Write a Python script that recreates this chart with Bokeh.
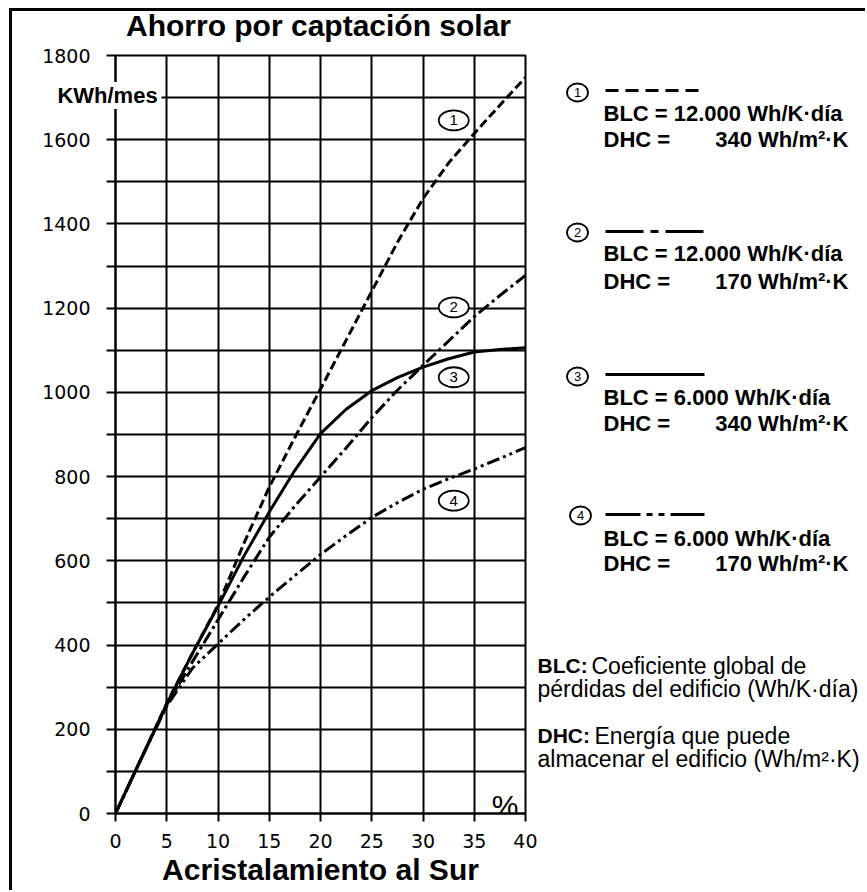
from bokeh.plotting import figure
from bokeh.models import Range1d, FixedTicker, Label
from bokeh.layouts import row
from bokeh.embed import file_html
from bokeh.resources import INLINE
from bokeh.core.properties import value

# ---------------- data ----------------
x_pct = [0, 2.5, 5, 7.5, 10, 12.5, 15, 17.5, 20, 22.5, 25, 27.5, 30, 32.5, 35, 37.5, 40]
ahorro_1 = [0, 130, 262, 380, 495, 640, 775, 893, 1008, 1124, 1240, 1356, 1460, 1545, 1615, 1682, 1748]
ahorro_2 = [0, 130, 258, 360, 460, 560, 656, 730, 799, 868, 940, 1005, 1064, 1122, 1180, 1230, 1278]
ahorro_3 = [0, 130, 260, 380, 492, 610, 716, 815, 902, 960, 1004, 1035, 1060, 1080, 1096, 1102, 1106]
ahorro_4 = [0, 130, 255, 345, 403, 460, 514, 565, 615, 660, 703, 738, 770, 795, 818, 843, 869]

x_ticks = [0, 5, 10, 15, 20, 25, 30, 35, 40]
y_ticks = list(range(0, 1801, 100))
y_labelled = [0, 200, 400, 600, 800, 1000, 1200, 1400, 1600, 1800]
y_unit_text = "KWh/mes"
title_text = "Ahorro por captación solar"
x_title_text = "Acristalamiento al Sur"

curve_ids = ["1", "2", "3", "4"]
curve_tag_x = [33, 33, 33, 33]
curve_tag_y = [1646, 1202, 1036, 743]

blc_text = ["BLC = 12.000 Wh/K·día", "BLC = 12.000 Wh/K·día",
            "BLC = 6.000 Wh/K·día", "BLC = 6.000 Wh/K·día"]
dhc_value = ["340 Wh/m²·K", "170 Wh/m²·K", "340 Wh/m²·K", "170 Wh/m²·K"]

FONT = "Liberation Sans"
TICK_FONT = "DejaVu Sans"

# ---------------- main chart ----------------
FW, FH = 410, 758
p = figure(frame_width=FW, frame_height=FH,
           x_range=Range1d(0, 40), y_range=Range1d(0, 1800),
           min_border_left=103, min_border_right=12, min_border_top=44, min_border_bottom=77,
           output_backend="svg", toolbar_location=None,
           background_fill_color="white", border_fill_color="white")

p.xaxis.ticker = FixedTicker(ticks=x_ticks)
p.yaxis.ticker = FixedTicker(ticks=y_ticks)
p.yaxis.major_label_overrides = {t: (str(t) if t in y_labelled else "") for t in y_ticks}

for ax in (p.xaxis[0], p.yaxis[0]):
    ax.axis_line_color = "black"
    ax.axis_line_width = 2
    ax.major_tick_line_color = "black"
    ax.major_tick_line_width = 2
    ax.major_tick_in = 0
    ax.minor_tick_line_color = None
    ax.major_label_text_font = TICK_FONT
    ax.major_label_text_font_size = "19px"
    ax.major_label_text_color = "black"

p.yaxis.major_tick_out = 9
p.yaxis.major_label_standoff = 16
p.xaxis.major_tick_out = 8
p.xaxis.major_label_standoff = 12
p.xaxis.axis_label = x_title_text
p.xaxis.axis_label_text_font = FONT
p.xaxis.axis_label_text_font_size = "30px"
p.xaxis.axis_label_text_font_style = "bold"
p.xaxis.axis_label_text_color = "black"
p.xaxis.axis_label_standoff = 2

p.grid.grid_line_color = "black"
p.grid.grid_line_width = 2
p.grid.grid_line_alpha = 1.0
p.outline_line_color = "black"
p.outline_line_width = 2

p.line(x_pct, ahorro_1, line_color="black", line_width=3, line_dash="9 4")
p.line(x_pct, ahorro_2, line_color="black", line_width=3, line_dash="13 4 3 4")
p.line(x_pct, ahorro_3, line_color="black", line_width=3)
p.line(x_pct, ahorro_4, line_color="black", line_width=3, line_dash="13 4 3 4 3 4")

p.ellipse(x=curve_tag_x, y=curve_tag_y, width=30, height=20,
          width_units="screen", height_units="screen",
          fill_color="white", line_color="black", line_width=1.8)
p.text(x=curve_tag_x, y=curve_tag_y, text=curve_ids, text_align="center",
       text_baseline="middle", text_font=value(FONT), text_font_size="15px",
       text_color="black")

p.add_layout(Label(x=40, y=0, x_offset=-7, y_offset=8, text="%", text_align="right",
                   text_baseline="alphabetic", text_font=FONT, text_font_size="30px",
                   text_color="black"))

# ---------------- legend panel (coordinates = page pixels) ----------------
L0, LW = 537, 328
leg = figure(width=LW, height=879, x_range=Range1d(L0, L0 + LW), y_range=Range1d(813, 55),
             min_border=0, x_axis_location=None, y_axis_location=None,
             output_backend="svg", toolbar_location=None,
             outline_line_color=None, background_fill_color="white",
             border_fill_color="white")
leg.grid.visible = False

circle_x = [577, 577, 577, 580]
circle_y = [92, 232, 376, 515]
sample_y = [90, 231, 374, 514]
blc_y = [113, 253, 397, 538]
dhc_y = [139, 281, 423, 563]
sample_dash = ["13 7", "38 7 8 7", "solid", "35 6 6 6 6 6"]

leg.ellipse(x=circle_x, y=circle_y, width=21, height=18,
            width_units="screen", height_units="screen",
            fill_color="white", line_color="black", line_width=1.8)
leg.text(x=circle_x, y=circle_y, text=curve_ids, text_align="center",
         text_baseline="middle", text_font=value(FONT), text_font_size="13px",
         text_color="black")
for yy, dash in zip(sample_y, sample_dash):
    leg.line([605, 704], [yy, yy], line_color="black", line_width=3, line_dash=dash)

leg.text(x=[603] * 4, y=blc_y, text=blc_text, text_align="left", text_baseline="middle",
         text_font=value(FONT), text_font_size="22px", text_font_style="bold",
         text_color="black")
leg.text(x=[603] * 4, y=dhc_y, text=["DHC ="] * 4, text_align="left", text_baseline="middle",
         text_font=value(FONT), text_font_size="22px", text_font_style="bold",
         text_color="black")
leg.text(x=[848] * 4, y=dhc_y, text=dhc_value, text_align="right", text_baseline="middle",
         text_font=value(FONT), text_font_size="22px", text_font_style="bold",
         text_color="black")

leg.text(x=[537, 537], y=[665, 735], text=["BLC:", "DHC:"], text_align="left",
         text_baseline="middle", text_font=value(FONT), text_font_size="21px",
         text_font_style="bold", text_color="black")
leg.text(x=[591, 594], y=[665, 735], text=["Coeficiente global de", "Energía que puede"],
         text_align="left", text_baseline="middle", text_font=value(FONT),
         text_font_size="23px", text_color="black")
leg.text(x=[537, 537], y=[688, 758],
         text=["pérdidas del edificio (Wh/K·día)", "almacenar el edificio (Wh/m²·K)"],
         text_align="left", text_baseline="middle", text_font=value(FONT),
         text_font_size="23px", text_color="black")

layout = row(p, leg, styles={"border-left": "3px solid black",
                             "border-top": "3px solid black",
                             "margin-left": "9px", "margin-top": "8px"})

# ---------------- overlays placed on the page (text centred in each) ----------------
def overlay(w, h, left, top):
    f = figure(width=w, height=h, x_range=Range1d(0, 1), y_range=Range1d(0, 1),
               title=None, min_border=0, x_axis_location=None, y_axis_location=None,
               output_backend="svg", toolbar_location=None, outline_line_color=None,
               background_fill_alpha=0.0, border_fill_alpha=0.0,
               styles={"position": "absolute", "left": f"{left}px", "top": f"{top}px",
                       "z-index": "5"})
    f.grid.visible = False
    return f

# chart title
tt = overlay(440, 50, 98, 0)
tt.text(x=[0.5], y=[0.5], text=[title_text], text_align="center", text_baseline="middle",
        text_font=value(FONT), text_font_size="30px", text_font_style="bold",
        text_color="black")

# unit label sitting across the y axis, as in the original
kw = overlay(120, 44, 47, 73)
kw.rect(x=[0.5], y=[0.5], width=108, height=27, width_units="screen", height_units="screen",
        fill_color="white", line_color=None)
kw.text(x=[0.5], y=[0.5], text=[y_unit_text], text_align="center",
        text_baseline="middle", text_font=value(FONT), text_font_size="22px",
        text_font_style="bold", text_color="black")

open("out.html", "w").write(file_html([layout, tt, kw], INLINE))
